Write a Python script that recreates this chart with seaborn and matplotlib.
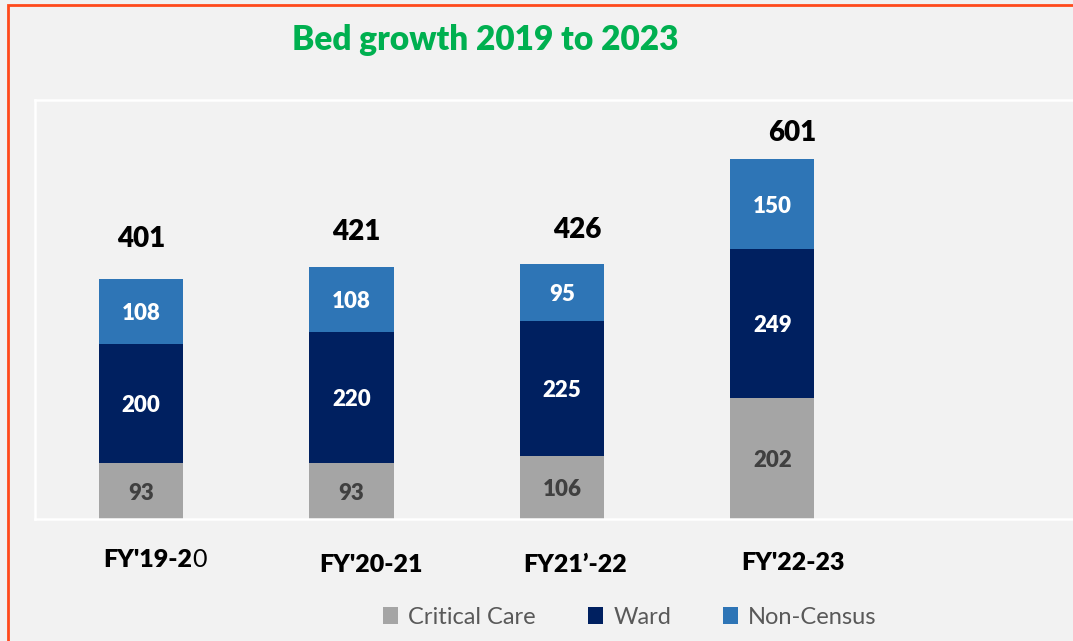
import matplotlib

matplotlib.use("Agg")
import matplotlib.pyplot as plt
import pandas as pd
import seaborn as sns
from matplotlib.patches import Patch, Rectangle

CATEGORIES = ["FY'19-20", "FY'20-21", "FY21\u2019-22", "FY'22-23"]
CRITICAL_CARE = [93, 93, 106, 202]
WARD = [200, 220, 225, 249]
NON_CENSUS = [108, 108, 95, 150]
TOTALS = [401, 421, 426, 601]
TITLE = "Bed growth 2019 to 2023"
SERIES_NAMES = ["Critical Care", "Ward", "Non-Census"]

COLORS = {"Critical Care": "#a5a5a5", "Ward": "#002060", "Non-Census": "#2e75b6"}
LABEL_COLORS = {"Critical Care": "#404040", "Ward": "white", "Non-Census": "white"}
BG = "#f2f2f2"
HEAVY = "heavy"

sns.set_style("white")
plt.rcParams["font.family"] = ["Lato", "DejaVu Sans"]

df = pd.DataFrame({
    "year": CATEGORIES,
    "Critical Care": CRITICAL_CARE,
    "Ward": WARD,
    "Non-Census": NON_CENSUS,
})
df["cc_ward"] = df["Critical Care"] + df["Ward"]
df["all"] = df["cc_ward"] + df["Non-Census"]

fig = plt.figure(figsize=(10.73, 6.41), dpi=100, facecolor=BG)
ax = fig.add_axes([35 / 1073, 122 / 641, 1053 / 1073, 419 / 641])
ax.set_facecolor(BG)

# stacked look: draw cumulative sums from the top down
for col, name in [("all", "Non-Census"), ("cc_ward", "Ward"), ("Critical Care", "Critical Care")]:
    sns.barplot(data=df, x="year", y=col, order=CATEGORIES, color=COLORS[name],
                saturation=1, width=0.4, errorbar=None, linewidth=0, ax=ax)

ax.set_xlim(-0.504, 4.5)
ax.set_ylim(0, 700)
ax.set_xticks([])
ax.set_yticks([])
ax.set_xlabel("")
ax.set_ylabel("")
for sp in ax.spines.values():
    sp.set_visible(True)
    sp.set_color("white")
    sp.set_linewidth(1.8)

# segment labels
for i in range(len(CATEGORIES)):
    base = 0
    for name, vals in zip(SERIES_NAMES, [CRITICAL_CARE, WARD, NON_CENSUS]):
        v = vals[i]
        ax.text(i, base + v / 2, str(v), ha="center", va="center_baseline", fontsize=16,
                fontweight=HEAVY, color=LABEL_COLORS[name])
        base += v

# totals, a little off-centre as in the source
total_offsets = [(0, 32), (5, 27), (15, 26), (20, 18)]
for i, (tot, (dx, dy)) in enumerate(zip(TOTALS, total_offsets)):
    ax.annotate(str(tot), xy=(i, tot), xytext=(dx, dy), textcoords="offset pixels",
                ha="center", va="baseline", fontsize=20, fontweight=HEAVY, color="black")

# category labels below the plot area
label_offsets = [(13, -48), (20, -53), (13, -53), (21, -51)]
for i, (lab, (dx, dy)) in enumerate(zip(CATEGORIES, label_offsets)):
    if i == 0:
        # last character of the first label is not bold in the source
        t1 = ax.annotate(lab[:-1], xy=(i, 0), xytext=(dx - 51, dy), textcoords="offset pixels",
                         ha="left", va="baseline", fontsize=18, fontweight=HEAVY,
                         color="black", annotation_clip=False)
        ax.annotate(lab[-1], xy=(1, 0), xycoords=t1, ha="left", va="bottom",
                    fontsize=18, color="black", annotation_clip=False)
    else:
        ax.annotate(lab, xy=(i, 0), xytext=(dx, dy), textcoords="offset pixels",
                    ha="center", va="baseline", fontsize=18, fontweight=HEAVY,
                    color="black", annotation_clip=False)

fig.text(485 / 1073, (641 - 50) / 641, TITLE, ha="center", va="baseline",
         fontsize=24, fontweight=HEAVY, color="#00b050")

handles = [Patch(facecolor=COLORS[n], edgecolor="none") for n in SERIES_NAMES]
fig.legend(handles, SERIES_NAMES, loc="center", bbox_to_anchor=(630 / 1073, 24 / 641),
           ncol=3, frameon=False, fontsize=17, handlelength=0.62, handleheight=0.75,
           handletextpad=0.45, columnspacing=2.2, labelcolor="#595959")

# orange-red outer frame (right and bottom edges fall outside the crop)
fig.add_artist(Rectangle((8 / 1073, -0.1), 1.2, 636 / 641 + 0.1, transform=fig.transFigure,
                         fill=False, edgecolor="#ff4a1c", linewidth=2))

fig.savefig("out.png", dpi=100, facecolor=BG)
